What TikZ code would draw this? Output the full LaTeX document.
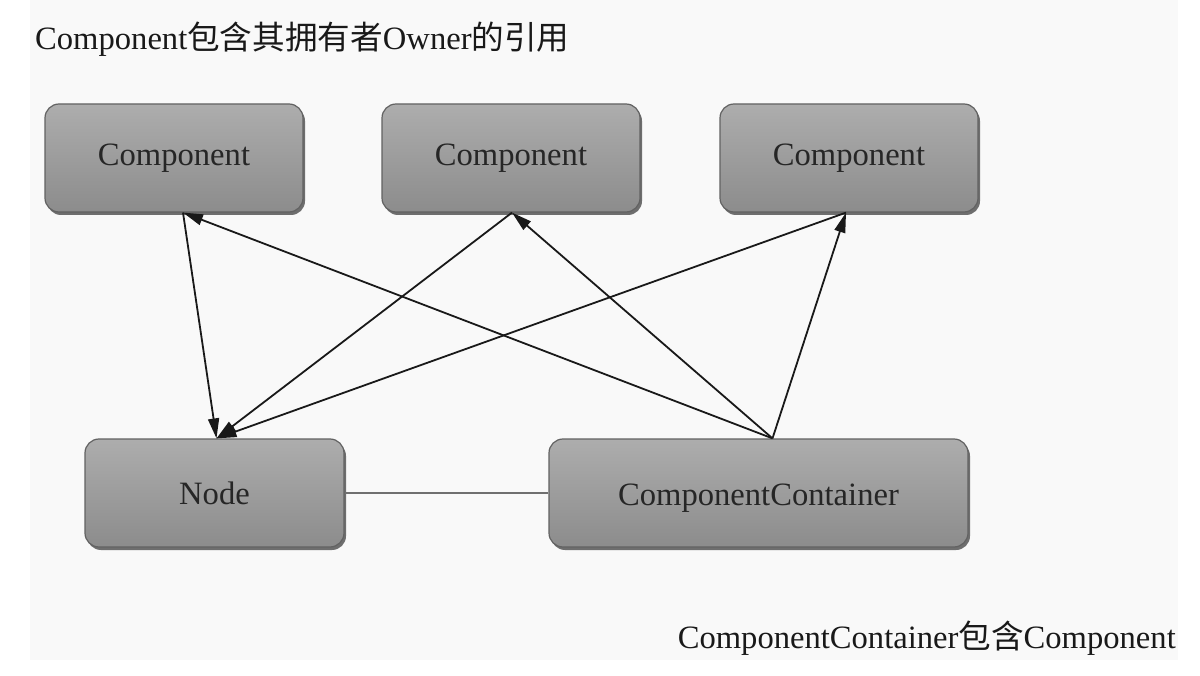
\documentclass[tikz,border=0pt]{standalone}
\usepackage{fontspec}
\setmainfont{Liberation Serif}
\newfontfamily\cjk{Noto Sans CJK SC}
\usetikzlibrary{arrows.meta,calc,shadows}
\definecolor{bgpage}{HTML}{F9F9F9}
\definecolor{boxtop}{HTML}{ADADAD}
\definecolor{boxbot}{HTML}{8C8C8C}
\definecolor{boxedge}{HTML}{626262}
\definecolor{linkgray}{HTML}{707070}
\tikzset{
  box/.style={rectangle, rounded corners=14pt, top color=boxtop, bottom color=boxbot,
    draw=boxedge, line width=1.2pt, minimum height=108pt, text=black!85,
    font=\fontsize{32.6}{36}\selectfont,
    drop shadow={shadow xshift=2pt, shadow yshift=-3pt, fill=black!75, opacity=0.75}},
  arr/.style={draw=black!90, line width=1.8pt, -{Triangle[length=20pt,width=11pt]}},
  link/.style={draw=linkgray, line width=2.8pt},
  caption/.style={font=\fontsize{32.6}{36}\selectfont, text=black!90, inner sep=0pt}
}
\begin{document}
\begin{tikzpicture}[x=1pt,y=-1pt]
\useasboundingbox (0,0) rectangle (1200,676);
\fill[white] (0,0) rectangle (1200,676);
\fill[bgpage] (30,0) rectangle (1178,660);

\node[caption, anchor=base west] (title) at (35,50) {Component{\cjk 包含其拥有者}Owner{\cjk 的引用}};
\node[caption, anchor=base east] (note) at (1176,648) {ComponentContainer{\cjk 包含}Component};

\node[box, minimum width=258pt] (c1) at (174,158) {Component};
\node[box, minimum width=258pt] (c2) at (511,158) {Component};
\node[box, minimum width=258pt] (c3) at (849,158) {Component};
\node[box, minimum width=259pt] (nd) at (214.5,493) {Node};
\node[box, minimum width=419pt, text height=31pt, text depth=7pt] (cc) at (758.5,493) {ComponentContainer};

\coordinate (c1b) at ($(c1.south)+(9,0)$);
\coordinate (c2b) at ($(c2.south)+(1,0)$);
\coordinate (c3b) at ($(c3.south)+(-3,0)$);
\coordinate (ndt) at ($(nd.north)+(2,0)$);
\coordinate (cct) at ($(cc.north)+(14,0)$);

\draw[link] (nd.east) -- (cc.west);

\draw[arr] (c1b) -- (ndt);
\draw[arr] (c2b) -- (ndt);
\draw[arr] (c3b) -- (ndt);
\draw[arr] (cct) -- (c1b);
\draw[arr] (cct) -- (c2b);
\draw[arr] (cct) -- (c3b);
\end{tikzpicture}
\end{document}
